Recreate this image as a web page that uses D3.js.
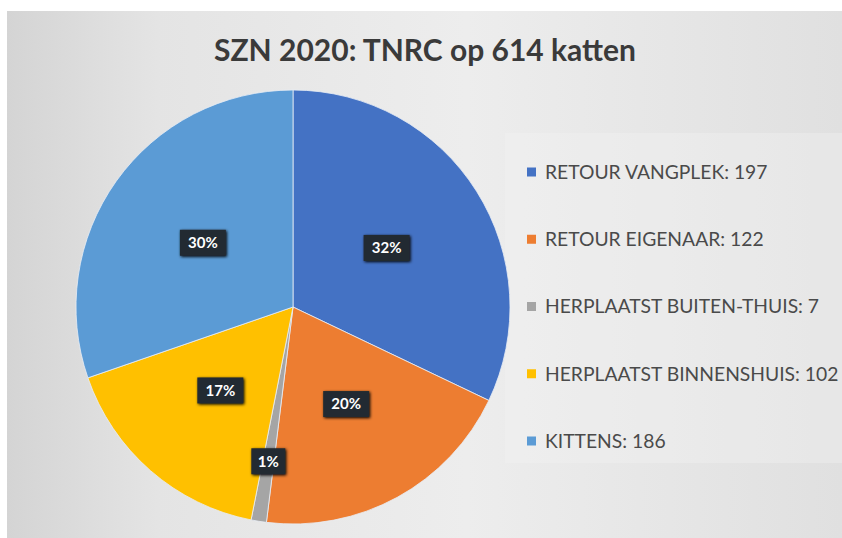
<!DOCTYPE html>
<html>
<head>
<meta charset="utf-8">
<script src="https://cdn.jsdelivr.net/npm/d3@7"></script>
<style>
  body { margin: 0; background: #fff; }
  svg { display: block; }
</style>
</head>
<body>
<div id="chart"></div>
<script>
var categories = ["RETOUR VANGPLEK", "RETOUR EIGENAAR", "HERPLAATST BUITEN-THUIS", "HERPLAATST BINNENSHUIS", "KITTENS"];
var counts = [197, 122, 7, 102, 186];
var colors = ["#4472C4", "#ED7D31", "#A5A5A5", "#FFC000", "#5B9BD5"];
var title = "SZN 2020: TNRC op 614 katten";

var width = 842, height = 538;
var cx = 293, cy = 307, radius = 217;

var svg = d3.select("#chart")
    .append("svg")
    .attr("width", width)
    .attr("height", height);

var defs = svg.append("defs");

// slide background, a photo of a screen so slightly uneven
var grad = defs.append("linearGradient")
    .attr("id", "bg")
    .attr("x1", "0%").attr("x2", "100%").attr("y1", "0%").attr("y2", "0%");
grad.append("stop").attr("offset", "0%").attr("stop-color", "#d4d4d4");
grad.append("stop").attr("offset", "18%").attr("stop-color", "#e4e4e4");
grad.append("stop").attr("offset", "55%").attr("stop-color", "#ededed");
grad.append("stop").attr("offset", "100%").attr("stop-color", "#e0e0e0");

var shadow = defs.append("filter").attr("id", "shadow")
    .attr("x", "-30%").attr("y", "-30%").attr("width", "160%").attr("height", "160%");
shadow.append("feGaussianBlur").attr("in", "SourceAlpha").attr("stdDeviation", 1.5);
shadow.append("feOffset").attr("dx", 1).attr("dy", 1).attr("result", "b");
var merge = shadow.append("feMerge");
merge.append("feMergeNode").attr("in", "b");
merge.append("feMergeNode").attr("in", "SourceGraphic");

svg.append("rect")
    .attr("x", 7).attr("y", 11)
    .attr("width", width - 7).attr("height", height - 11)
    .attr("fill", "url(#bg)");

// lighter legend panel
svg.append("rect")
    .attr("x", 505).attr("y", 133)
    .attr("width", width - 505).attr("height", 330)
    .attr("fill", "#f4f4f4")
    .attr("opacity", 0.35);

svg.append("text")
    .attr("x", 425)
    .attr("y", 61)
    .attr("text-anchor", "middle")
    .attr("font-family", "Lato, 'Open Sans', sans-serif")
    .attr("font-weight", "bold")
    .attr("font-size", 30)
    .attr("fill", "#3a3a3a")
    .text(title);

var data = categories.map(function(c, i) {
  return {name: c, value: counts[i], color: colors[i]};
});
var total = d3.sum(counts);

var pie = d3.pie()
    .sort(null)
    .value(function(d) { return d.value; });

var arc = d3.arc()
    .innerRadius(0)
    .outerRadius(radius);

var g = svg.append("g")
    .attr("transform", "translate(" + cx + "," + cy + ")");

var arcs = pie(data);

g.selectAll("path")
    .data(arcs)
    .enter()
    .append("path")
    .attr("d", arc)
    .attr("fill", function(d) { return d.data.color; })
    .attr("stroke", "#e8eef5")
    .attr("stroke-width", 0.8);

var labelArc = d3.arc().innerRadius(radius * 0.51).outerRadius(radius * 0.51);
var outerLabelArc = d3.arc().innerRadius(radius * 0.72).outerRadius(radius * 0.72);

var labels = g.selectAll("g.lbl")
    .data(arcs)
    .enter()
    .append("g")
    .attr("class", "lbl")
    .attr("transform", function(d) {
      var small = d.data.value / total < 0.03;
      var p = (small ? outerLabelArc : labelArc).centroid(d);
      return "translate(" + p[0] + "," + p[1] + ")";
    });

labels.append("rect")
    .attr("x", function(d) { return d.data.value / total < 0.03 ? -17 : -23; })
    .attr("y", -13)
    .attr("width", function(d) { return d.data.value / total < 0.03 ? 34 : 46; })
    .attr("height", 26)
    .attr("fill", "#232a30")
    .attr("filter", "url(#shadow)");

labels.append("text")
    .attr("text-anchor", "middle")
    .attr("dy", "0.36em")
    .attr("font-family", "Lato, 'Open Sans', sans-serif")
    .attr("font-weight", "bold")
    .attr("font-size", 15)
    .attr("fill", "#ffffff")
    .text(function(d) { return Math.round(d.data.value / total * 100) + "%"; });

// legend
var legendY = d3.scalePoint()
    .domain(categories)
    .range([172, 441]);

var legend = svg.selectAll("g.legend")
    .data(data)
    .enter()
    .append("g")
    .attr("class", "legend")
    .attr("transform", function(d) { return "translate(527," + legendY(d.name) + ")"; });

legend.append("rect")
    .attr("x", 0)
    .attr("y", -4.5)
    .attr("width", 9)
    .attr("height", 9)
    .attr("fill", function(d) { return d.color; });

legend.append("text")
    .attr("x", 18)
    .attr("dy", "0.36em")
    .attr("font-family", "Lato, 'Open Sans', sans-serif")
    .attr("font-size", 19.3)
    .attr("fill", "#4a4a4a")
    .text(function(d) { return d.name + ": " + d.value; });
</script>
</body>
</html>
